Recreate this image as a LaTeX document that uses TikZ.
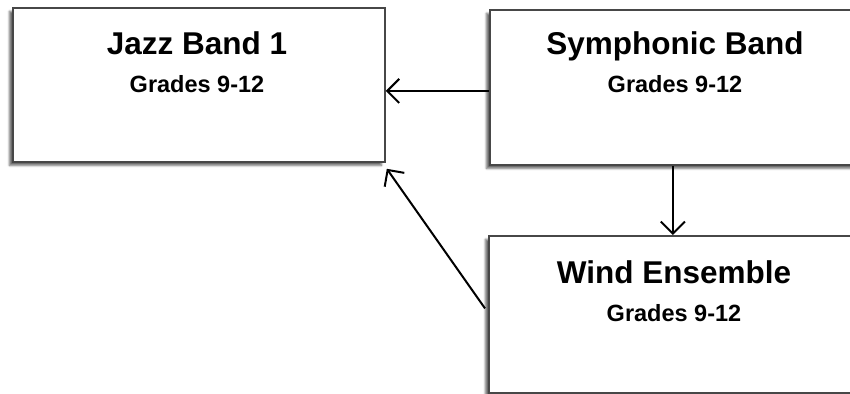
\documentclass[tikz,border=0pt]{standalone}
\usepackage{fontspec}
\setmainfont{Liberation Sans}
\usetikzlibrary{arrows.meta,shadows.blur}
\begin{document}
\begin{tikzpicture}[x=1pt,y=-1pt,
  bandbox/.style={draw=black!72,line width=1.8pt,fill=white,minimum width=372pt,
    inner sep=0pt,anchor=north west,
    blur shadow={shadow xshift=-3.5pt,shadow yshift=-3.5pt,shadow blur steps=6,shadow opacity=60}},
  titletext/.style={font=\bfseries\fontsize{31.5}{36}\selectfont,anchor=base,inner sep=0pt},
  subtext/.style={font=\bfseries\fontsize{23.5}{28}\selectfont,anchor=base,inner sep=0pt},
  arr/.style={-{Straight Barb[length=12pt,width=24pt,line width=2pt]},line width=2pt,black}
]
\useasboundingbox (0,0) rectangle (850,393);
\node[bandbox,minimum height=154pt] (jazz) at (12,7) {};
\node[bandbox,minimum height=155pt] (symph) at (489,9) {};
\node[bandbox,minimum height=157pt] (wind) at (488,235) {};

\node[titletext] (jazzt) at (197,55) {Jazz Band 1};
\node[subtext] (jazzs) at (197,93) {Grades 9-12};
\node[titletext] (symptt) at (675,55) {Symphonic Band};
\node[subtext] (symps) at (675,93) {Grades 9-12};
\node[titletext] (windt) at (674,283) {Wind Ensemble};
\node[subtext] (winds) at (674,321) {Grades 9-12};

\draw[arr] ([yshift=-3.5pt]symph.west) -- ([yshift=-3.5pt]symph.west -| jazz.east);
\draw[arr] ([xshift=-3pt]symph.south) -- ([xshift=-3pt]symph.south |- wind.north);
\draw[arr] ([xshift=-3pt,yshift=6pt]wind.west) -- ([xshift=1pt,yshift=-6pt]jazz.south east);
\end{tikzpicture}
\end{document}
